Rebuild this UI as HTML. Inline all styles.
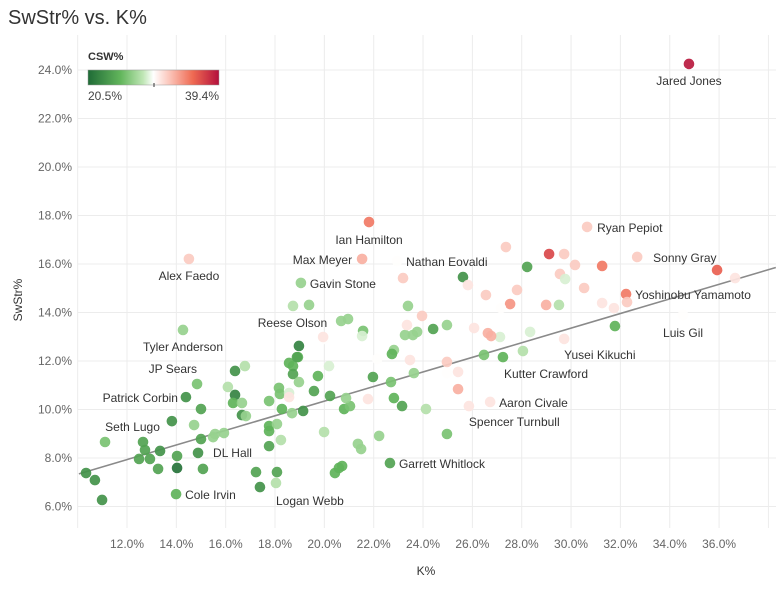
<!DOCTYPE html>
<html><head><meta charset="utf-8"><style>
body{margin:0;background:#fff;width:781px;height:589px;overflow:hidden;font-family:"Liberation Sans",sans-serif}
svg text{font-family:"Liberation Sans",sans-serif}
</style></head><body>
<svg id="chart" width="781" height="589">
<defs><linearGradient id="lg" x1="0" x2="1" y1="0" y2="0">
<stop offset="0" stop-color="#1f6b36"/><stop offset="0.25" stop-color="#63b65c"/><stop offset="0.42" stop-color="#bfe6b5"/><stop offset="0.5" stop-color="#ffffff"/><stop offset="0.62" stop-color="#fbc6bb"/><stop offset="0.8" stop-color="#ef6a52"/><stop offset="1" stop-color="#b30f3c"/></linearGradient></defs>
<text x="8" y="24" font-size="20" fill="#333">SwStr% vs. K%</text>
<g id="grid"></g><g id="axes"></g><g id="trend"></g><g id="dots"></g><g id="labels"></g>
<g>
<text x="88" y="60" font-size="11" font-weight="bold" fill="#333">CSW%</text>
<rect x="88" y="70" width="131" height="15" fill="url(#lg)" stroke="#999" stroke-width="0.5"/>
<line x1="154" y1="83" x2="154" y2="87" stroke="#333"/>
<text x="88" y="100" font-size="12" fill="#444">20.5%</text>
<text x="219" y="100" font-size="12" fill="#444" text-anchor="end">39.4%</text>
</g>
</svg>
<script>
const kPct=[10.34,10.70,10.99,11.11,12.65,12.73,12.49,13.34,12.93,13.26,13.82,14.03,14.03,13.99,14.39,14.72,14.88,15.00,15.00,15.08,14.84,15.57,15.93,15.49,16.38,16.38,16.30,16.66,16.78,16.09,16.66,16.82,17.23,17.39,18.04,18.08,17.76,17.76,17.76,18.08,18.24,18.28,17.76,18.16,18.20,18.57,18.57,18.69,19.14,18.57,18.73,18.73,18.93,18.97,18.97,19.74,19.58,20.23,19.99,20.19,19.99,20.80,21.04,20.88,20.43,20.59,20.72,21.36,21.49,21.97,22.22,21.77,22.14,22.66,22.70,22.82,23.15,22.82,22.74,23.47,23.63,24.12,24.41,23.96,23.39,23.27,23.59,23.76,19.38,18.73,14.27,21.81,21.53,14.51,22.95,23.19,19.05,20.68,20.96,21.57,24.97,23.35,19.95,21.53,18.89,24.97,30.65,27.36,29.11,29.72,28.22,31.26,32.68,30.16,35.92,36.65,25.62,25.82,29.55,29.76,27.81,26.55,27.53,27.16,28.99,29.51,30.53,32.23,32.27,31.26,31.74,34.54,31.78,29.72,28.34,27.12,26.63,26.76,26.07,26.47,27.24,28.05,25.42,24.97,25.42,25.86,26.72,24.97,34.78];
const swStr=[7.38,7.09,6.27,8.66,8.66,8.33,7.96,8.29,7.96,7.55,9.52,8.08,7.59,6.51,10.51,9.36,8.21,8.78,10.02,7.55,11.05,8.99,9.03,8.86,11.59,10.60,10.27,10.27,11.79,10.93,9.77,9.73,7.42,6.80,6.97,7.42,8.49,9.32,9.11,9.40,8.74,10.02,10.35,10.89,10.64,10.68,10.51,9.85,9.94,11.92,11.79,11.46,12.16,12.62,11.13,11.38,10.76,10.56,9.07,11.79,12.91,10.02,10.14,10.47,7.38,7.59,7.67,8.58,8.37,11.34,8.91,10.43,12.08,7.79,11.13,10.47,10.14,12.45,12.29,12.04,11.50,10.02,13.32,13.86,14.27,13.07,13.07,13.20,14.31,14.27,13.28,17.73,16.21,16.21,16.12,15.42,15.22,13.65,13.73,13.24,13.48,13.48,12.99,13.03,12.16,11.96,17.53,16.70,16.41,16.41,15.88,15.92,16.29,15.96,15.75,15.42,15.46,15.13,15.59,15.38,14.93,14.72,14.35,14.18,14.31,14.31,15.01,14.76,14.43,14.39,14.18,13.90,13.44,12.91,13.20,12.99,13.15,13.03,13.36,12.25,12.16,12.41,11.55,11.50,10.84,10.14,10.31,8.99,24.25];
const cswPct=[23,23,23,26,24,24,24,23,24,24,23,24,21,25,23,27,23,24,24,24,26,27,27,27,23,22,25,27,28,28,23,27,24,23,28,24,24,25,25,27,28,25,26,26,26,29,31,27,23,25,25,24,25,22,27,25,24,24,28,29,30,25,26,27,25,25,25,27,27,24,27,31,30,24,26,25,24,27,25,31,27,28,24,32,27,27,27,27,27,28,27,35,33,32,30,32,27,27,27,26,27,31,31,29,24,32,32,32,37,32,24,35,32,32,36,31,23,31,32,29,32,32,34,30,33,28,32,35,32,31,31,30,25,31,29,29,33,33,31,26,25,28,31,30,33,31,31,26,39];
const labelNames=["Jared Jones","Ian Hamilton","Max Meyer","Alex Faedo","Nathan Eovaldi","Gavin Stone","Reese Olson","Tyler Anderson","JP Sears","Patrick Corbin","Seth Lugo","DL Hall","Cole Irvin","Logan Webb","Garrett Whitlock","Ryan Pepiot","Sonny Gray","Yoshinobu Yamamoto","Luis Gil","Yusei Kikuchi","Kutter Crawford","Aaron Civale","Spencer Turnbull"];
const labelPoint=[148,91,92,93,94,96,97,90,24,14,10,16,13,33,73,106,112,127,131,133,140,146,145];
const xTicks=[12,14,16,18,20,22,24,26,28,30,32,34,36];
const yTicks=[6,8,10,12,14,16,18,20,22,24];
const trendEnds=[10.05,38.3];
const trendSlope=0.3012, trendIntercept=4.32;
// label layout (styling)
const labelStyle=[[0,17,"middle"],[0,18,"middle"],[-10,1,"end"],[0,17,"middle"],[9,1,"start"],[9,1,"start"],[-14,2,"end"],[0,17,"middle"],[-38,-2,"end"],[-8,1,"end"],[-12,6,"end"],[15,0,"start"],[9,1,"start"],[16,14,"start"],[9,1,"start"],[10,1,"start"],[16,1,"start"],[9,1,"start"],[0,18,"middle"],[0,16,"start"],[1,17,"start"],[9,1,"start"],[0,16,"start"]];
const NS="http://www.w3.org/2000/svg";
const L=78,R=776,T=35,B=528;
const xs=v=>127+(v-12)*24.67;
const ys=v=>70+(24-v)*24.25;
function col(c){
 const stops=[[20.5,[31,107,54]],[25.2,[99,182,92]],[28.4,[191,230,181]],[29.95,[255,255,255]],[32.2,[251,198,187]],[35.6,[239,106,82]],[39.4,[179,15,60]]];
 c=Math.max(20.5,Math.min(39.4,c));
 for(let i=0;i<stops.length-1;i++){const a=stops[i],b=stops[i+1];if(c<=b[0]){const t=(c-a[0])/(b[0]-a[0]);return "rgb("+a[1].map((v,j)=>Math.round(v+(b[1][j]-v)*t)).join(",")+")";}}
 return "rgb(179,15,60)";}
function mk(tag,attrs,parent){const e=document.createElementNS(NS,tag);for(const k in attrs)e.setAttribute(k,attrs[k]);parent.appendChild(e);return e;}
const grid=document.getElementById('grid'),axes=document.getElementById('axes');
for(let v=10;v<=38;v+=2){const g=mk('line',{x1:xs(v),x2:xs(v),y1:T,y2:B,stroke:'#ececec'},grid);

}
for(let v=6;v<=24;v+=2){const g=mk('line',{x1:L,x2:R,y1:ys(v),y2:ys(v),stroke:'#ececec'},grid);

}
xTicks.forEach(v=>{const t=mk('text',{x:xs(v),y:548,'font-size':12,fill:'#666','text-anchor':'middle'},axes);t.textContent=v.toFixed(1)+'%';

});
yTicks.forEach(v=>{const t=mk('text',{x:72,y:ys(v)+4,'font-size':12,fill:'#666','text-anchor':'end'},axes);t.textContent=v.toFixed(1)+'%';

});
let xt=mk('text',{x:426,y:575,'font-size':12,fill:'#333','text-anchor':'middle'},axes);xt.textContent='K%';


let yt=mk('text',{x:0,y:0,'font-size':12,fill:'#333','text-anchor':'middle',transform:'translate(22,300) rotate(-90)'},axes);yt.textContent='SwStr%';


const tl=mk('line',{x1:xs(trendEnds[0]),y1:ys(trendIntercept+trendSlope*trendEnds[0]),x2:xs(trendEnds[1]),y2:ys(trendIntercept+trendSlope*trendEnds[1]),stroke:'#8a8a8a','stroke-width':1.6},document.getElementById('trend'));


const dots=document.getElementById('dots');
kPct.forEach((k,i)=>{const c=mk('circle',{cx:xs(k),cy:ys(swStr[i]),r:5.3,fill:col(cswPct[i]),'fill-opacity':0.92},dots);

});
const lab=document.getElementById('labels');
labelNames.forEach((n,j)=>{const i=labelPoint[j],s=labelStyle[j];const t=mk('text',{x:xs(kPct[i])+s[0],y:ys(swStr[i])+s[1]+4,'font-size':12,fill:'#333','text-anchor':s[2]},lab);t.textContent=n;

});
</script>
</body></html>
